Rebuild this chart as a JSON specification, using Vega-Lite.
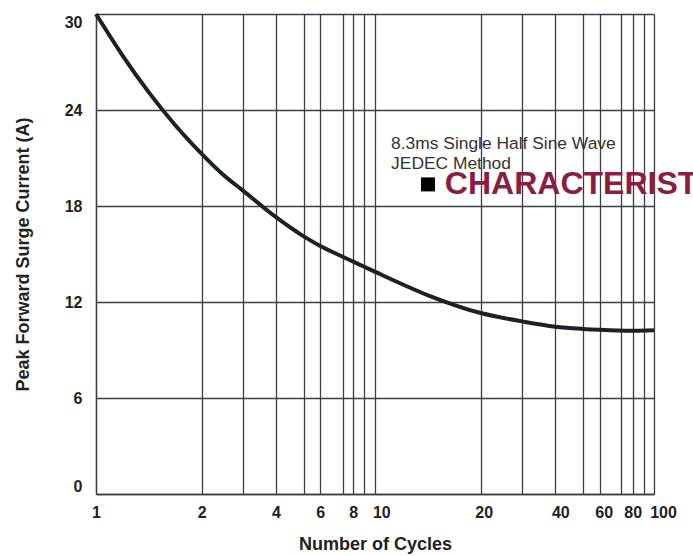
{
  "$schema": "https://vega.github.io/schema/vega-lite/v6.json",
  "autosize": {"type": "none"},
  "padding": {"left": 96, "top": 14, "right": 39, "bottom": 62},
  "width": 558,
  "height": 480,
  "background": "white",
  "config": {
    "view": {"stroke": null},
    "font": "Liberation Sans"
  },
  "datasets": {
    "curve": [
      {"cycles": 1, "current": 30},
      {"cycles": 1.25, "current": 27.42},
      {"cycles": 1.5, "current": 25.1},
      {"cycles": 1.75, "current": 23.05},
      {"cycles": 2, "current": 21.26},
      {"cycles": 2.5, "current": 20.0},
      {"cycles": 3, "current": 18.96},
      {"cycles": 4, "current": 17.3},
      {"cycles": 5, "current": 16.1},
      {"cycles": 6, "current": 15.5},
      {"cycles": 7, "current": 14.83},
      {"cycles": 8, "current": 14.52},
      {"cycles": 9, "current": 14.2},
      {"cycles": 10, "current": 13.88},
      {"cycles": 15, "current": 12.42},
      {"cycles": 20, "current": 11.31},
      {"cycles": 30, "current": 10.79},
      {"cycles": 40, "current": 10.46},
      {"cycles": 50, "current": 10.32},
      {"cycles": 60, "current": 10.26},
      {"cycles": 80, "current": 10.2},
      {"cycles": 100, "current": 10.23}
    ],
    "notes": [
      {"cycles": 11.5, "current": 21.9, "label": "8.3ms Single Half Sine Wave"},
      {"cycles": 11.5, "current": 20.6, "label": "JEDEC Method"}
    ],
    "marker": [
      {"cycles": 15, "current": 19.35}
    ],
    "heading": [
      {"cycles": 16.6, "current": 19.35, "label": "CHARACTERIST"}
    ]
  },
  "layer": [
    {
      "data": {"name": "curve"},
      "mark": {"type": "line", "color": "#1c2128", "strokeWidth": 4, "interpolate": "monotone"},
      "encoding": {
        "x": {
          "field": "cycles", "type": "quantitative",
          "scale": {
            "type": "linear", "nice": false, "zero": false,
            "domain": [1, 2, 3, 4, 5, 6, 7, 8, 9, 10, 20, 30, 40, 50, 60, 70, 80, 90, 100],
            "range": [0, 105.7, 147, 180, 207.7, 224.3, 246.7, 257.3, 268.3, 279.3, 384.7, 426, 459.3, 486.7, 503.7, 525.3, 536.7, 547.7, 558]
          },
          "axis": {
            "title": "Number of Cycles",
            "values": [1, 2, 3, 4, 5, 6, 7, 8, 9, 10, 20, 30, 40, 50, 60, 70, 80, 90, 100],
            "tickCount": 60,
            "labelExpr": "indexof([1,2,4,6,8,10,20,40,60,80,100], datum.value) >= 0 ? datum.label : ''",
            "labelOverlap": false,
            "labelOffset": {
              "condition": [
                {"test": "datum.value == 100", "value": 9},
                {"test": "datum.value == 10", "value": 6},
                {"test": "datum.value == 40", "value": 5},
                {"test": "datum.value == 60", "value": 4},
                {"test": "datum.value == 20", "value": 3}
              ],
              "value": 0
            },
            "grid": true, "gridColor": "#3a3f45", "gridWidth": 1.3, "gridOpacity": 1,
            "domainColor": "#3a3f45", "domainWidth": 1.3,
            "ticks": false,
            "labelPadding": 10,
            "labelFont": "Liberation Sans", "labelFontSize": 16, "labelFontWeight": "bold", "labelColor": "#222222",
            "labelFlush": false,
            "titleFont": "Liberation Sans", "titleFontSize": 18, "titleFontWeight": "bold", "titleColor": "#222222",
            "titlePadding": 15
          }
        },
        "y": {
          "field": "current", "type": "quantitative",
          "scale": {"domain": [0, 30], "nice": false},
          "axis": {
            "title": "Peak Forward Surge Current (A)",
            "values": [0, 6, 12, 18, 24, 30],
            "grid": true, "gridColor": "#3a3f45", "gridWidth": 1.3, "gridOpacity": 1,
            "domainColor": "#3a3f45", "domainWidth": 1.3,
            "ticks": false,
            "labelPadding": 14,
            "labelFont": "Liberation Sans", "labelFontSize": 16, "labelFontWeight": "bold", "labelColor": "#222222",
            "labelFlush": true,
            "titleFont": "Liberation Sans", "titleFontSize": 18, "titleFontWeight": "bold", "titleColor": "#222222",
            "titlePadding": 32
          }
        }
      }
    },
    {
      "data": {"name": "notes"},
      "mark": {"type": "text", "align": "left", "baseline": "middle", "font": "Liberation Sans", "fontSize": 17.4, "color": "#333333"},
      "encoding": {
        "x": {"field": "cycles", "type": "quantitative"},
        "y": {"field": "current", "type": "quantitative"},
        "text": {"field": "label"}
      }
    },
    {
      "data": {"name": "marker"},
      "mark": {"type": "square", "filled": true, "color": "#000000", "size": 196, "opacity": 1},
      "encoding": {
        "x": {"field": "cycles", "type": "quantitative"},
        "y": {"field": "current", "type": "quantitative"}
      }
    },
    {
      "data": {"name": "heading"},
      "mark": {"type": "text", "align": "left", "baseline": "middle", "font": "Liberation Sans", "fontSize": 32, "fontWeight": "bold", "color": "#8b1c42"},
      "encoding": {
        "x": {"field": "cycles", "type": "quantitative"},
        "y": {"field": "current", "type": "quantitative"},
        "text": {"field": "label"}
      }
    }
  ]
}
